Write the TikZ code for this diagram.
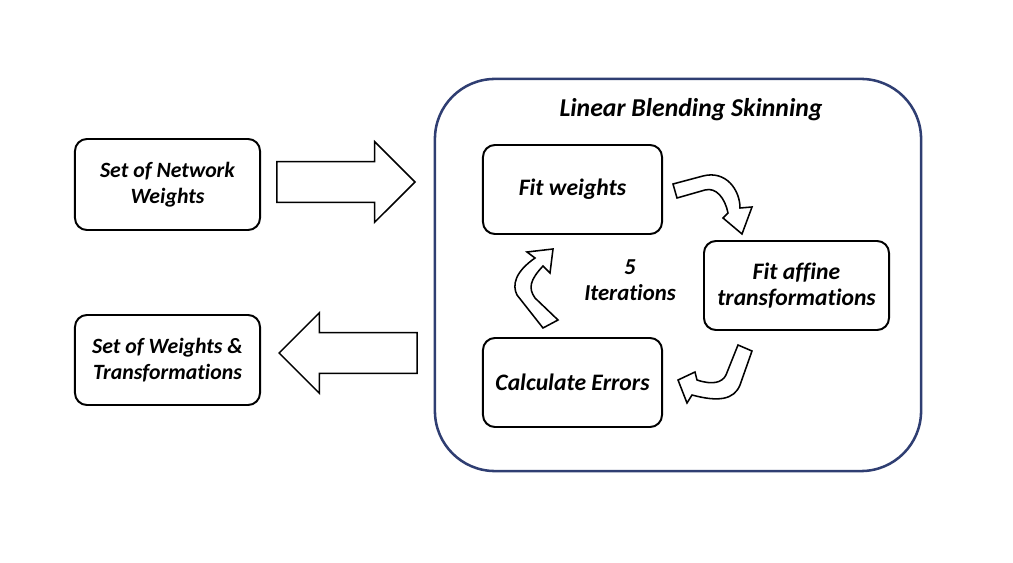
\documentclass[tikz,border=0pt]{standalone}
\usepackage{fontspec}
\setmainfont{Carlito}[Ligatures=NoCommon]
\usetikzlibrary{shapes.arrows}
\usetikzlibrary{positioning}

\definecolor{frameblue}{RGB}{47,62,114}

\begin{document}
\begin{tikzpicture}[
    x=0.025cm, y=-0.025cm,
    box/.style={draw, line width=1.4pt, rounded corners=0.3cm, align=center,
        font=\fontsize{16.8}{18.5}\selectfont\bfseries\itshape, inner sep=0pt},
    sidebox/.style={box, font=\fontsize{15.5}{18.5}\selectfont\bfseries\itshape},
    bigarrow/.style={single arrow, draw, line width=1.1pt, minimum height=3.45cm,
        inner xsep=0pt, inner ysep=0.4875cm, single arrow head extend=0.5cm,
        single arrow tip angle=90},
    looparrow/.style={draw, fill=white, line width=1.1pt}
]
\useasboundingbox (0,0) rectangle (1013,563);

% --- Outer frame ---
\node[draw=frameblue, line width=1.8pt, rounded corners=1.5cm,
      minimum width=12.15cm, minimum height=9.8cm] (lbs) at (678,275) {};
\node[font=\fontsize{18.3}{20}\selectfont\bfseries\itshape] (title) at (691,110) {Linear Blending Skinning};

% --- Left boxes ---
\node[sidebox, minimum width=4.625cm, minimum height=2.275cm] (netw) at (167.5,184.5) {Set of Network\\Weights};
\node[sidebox, minimum width=4.625cm, minimum height=2.25cm] (outw) at (167.5,360) {Set of Weights \&\\Transformations};

% --- Inner boxes ---
\node[box, minimum width=4.475cm, minimum height=2.225cm] (fitw) at (572.5,189.5) {Fit weights};
\node[box, minimum width=4.625cm, minimum height=2.225cm] (fitaff) at (796.5,285.5) {Fit affine\\transformations};
\node[box, minimum width=4.475cm, minimum height=2.225cm] (calcerr) at (572.5,382.5) {Calculate Errors};
\node[align=center, font=\fontsize{16.2}{18.5}\selectfont\bfseries\itshape] (iter) at (630,280) {5\\Iterations};

% --- Block arrows in and out ---
\node[bigarrow, anchor=tip] (inarrow) at (416,182) {};
\node[bigarrow, shape border rotate=180, anchor=tip] (outarrow) at (278,353) {};

% --- Loop arrows ---
\draw[looparrow] (673,184) -- (703,176) .. controls (726,170) and (740,190) .. (740,208)
    -- (752,207) -- (742,234) -- (723,218) -- (728,213)
    .. controls (725,198) and (716,187) .. (705,190) -- (677,198) -- cycle;
\draw[looparrow] (738,345) -- (752,351) -- (740,385) .. controls (734,400) and (718,402) .. (692,395)
    -- (687,403) -- (678,380) -- (695,372) -- (697,380)
    .. controls (712,385) and (722,383) .. (726,375) -- cycle;
\draw[looparrow] (543,328) -- (517,295) .. controls (512,285) and (515,272) .. (535,258)
    -- (527,252) -- (553,249) -- (550,273) -- (543,266)
    .. controls (530,280) and (528,288) .. (535,298) -- (558,320) -- cycle;

\end{tikzpicture}
\end{document}
